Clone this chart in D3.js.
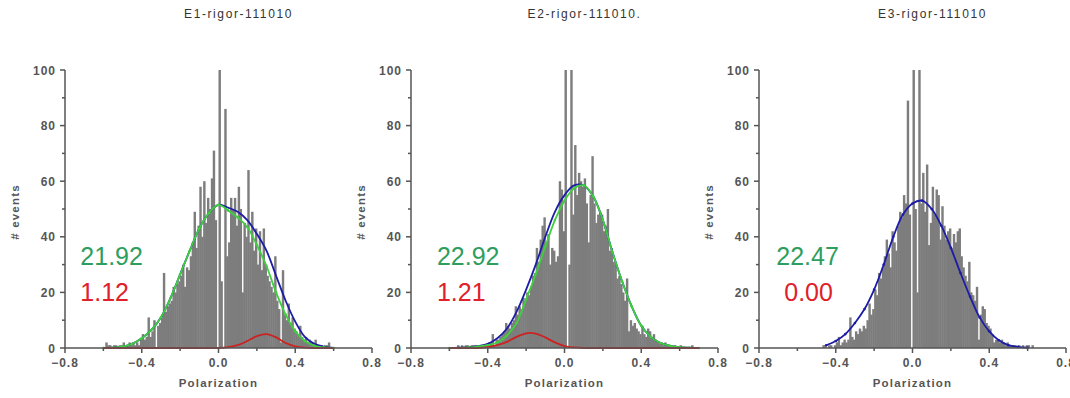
<!DOCTYPE html>
<html lang="en">
<head>
<meta charset="UTF-8">
<title>Polarization histograms</title>
<script src="https://d3js.org/d3.v7.min.js"></script>
<style>
  body { margin: 0; background: #fff; }
  text { font-family: Arial, "Liberation Sans", sans-serif; }
  .tick-label { font-size: 12px; font-weight: bold; fill: #555; letter-spacing: 1px; }
  .title { font-size: 12px; fill: #333; letter-spacing: 1.6px; }
  .axis-title { font-size: 11.5px; font-weight: bold; fill: #555; letter-spacing: 1.2px; }
  .axis-line { stroke: #555; stroke-width: 1.5px; fill: none; }
</style>
</head>
<body>
<svg id="chart" width="1070" height="398"></svg>
<script>
// ---- data ----
const panelTitles = ["E1-rigor-111010", "E2-rigor-111010.", "E3-rigor-111010"];
const binStart = -0.6;
const binWidth = 0.01;

// counts per 0.01 bin starting at -0.60
const e1Counts = [
  0,2,1,1,0,1,1,0,1,1,
  2,0,1,2,1,2,1,2,1,3,
  5,3,4,11,4,6,10,0,8,9,
  12,27,13,15,16,17,22,20,23,24,
  26,30,22,29,28,33,38,49,36,44,
  58,40,60,45,54,50,61,71,46,0,
  100,24,0,86,33,38,54,50,54,44,
  58,50,20,45,40,64,38,49,35,43,
  30,42,28,43,30,26,24,22,20,33,
  17,14,2,28,12,10,16,9,11,7,
  6,5,8,4,3,4,2,3,2,1,
  3,1,1,1,0,1,1,2,0,0
];
const e2Counts = [
  0,0,0,0,1,0,1,0,1,1,
  0,1,1,1,1,0,1,1,1,1,
  2,2,5,1,3,3,4,5,6,9,
  8,7,9,10,15,12,15,14,18,17,
  20,19,22,26,27,36,31,39,44,47,
  38,41,30,36,35,31,33,60,57,42,
  100,0,30,100,48,73,55,63,60,58,
  61,52,38,55,69,52,45,48,49,48,
  42,44,50,35,36,31,30,25,26,23,
  20,17,25,6,10,8,9,7,6,5,
  8,5,4,7,6,4,5,3,2,2,
  2,1,2,1,1,1,0,1,0,0,
  1,0,0,0,0,0,1,0,0,0
];
const e3Counts = [
  0,0,0,0,0,0,0,0,0,0,
  0,0,0,1,1,0,1,1,0,1,
  2,4,1,2,3,2,3,11,4,3,
  6,5,7,6,8,7,10,16,12,14,
  21,19,27,25,29,33,39,34,29,42,
  38,35,44,49,47,55,52,89,48,0,
  100,50,20,100,52,63,49,66,37,45,
  58,48,57,55,39,51,44,39,42,43,
  36,41,38,42,43,33,29,26,24,31,
  20,19,17,22,3,12,15,14,9,8,
  7,5,2,3,3,2,3,2,1,2,
  1,1,1,1,0,1,0,1,0,1,
  1,0,1,0
];

// fitted curves
const e1FitX  = [-0.6,-0.55,-0.5,-0.45,-0.4,-0.35,-0.3,-0.25,-0.2,-0.15,-0.1,-0.05,0,0.05,0.1,0.15,0.2,0.25,0.3,0.35,0.4,0.45,0.5,0.55,0.6];
const e1Green = [0,0.1,0.5,1.5,3.5,6.5,11,18,26.5,35,43,48.5,51.5,49.5,47,43.5,37,29.5,20,12,6,2.5,0.8,0.2,0];
const e1Blue  = [0,0.1,0.5,1.5,3.5,6.5,11,18,26.5,35,43,48.5,51.5,50.5,49,46,41,35,26,17,9.5,4,1.5,0.5,0];
const e1Red   = [0,0,0,0,0,0,0,0,0,0,0,0,0,0.3,1,2.5,4.3,5,3.8,1.8,0.6,0.1,0,0,0];

const e2FitX  = [-0.6,-0.55,-0.5,-0.45,-0.4,-0.35,-0.3,-0.25,-0.2,-0.15,-0.1,-0.05,0,0.05,0.1,0.15,0.2,0.25,0.3,0.35,0.4,0.45,0.5,0.55,0.6,0.65,0.7];
const e2Green = [0,0,0.2,0.5,1,2,4.5,9,17.5,26.5,36.5,46,53,57.5,58.5,54.5,46,34.5,24,15,8,4,1.8,0.8,0.3,0.1,0];
const e2Blue  = [0,0.1,0.3,0.7,1.5,3.5,7,13,21,30,40,49,55,58.5,58.5,54.5,46,34.5,24,15,8,4,1.8,0.8,0.3,0.1,0];
const e2Red   = [0,0,0,0,0.3,1,2.2,4,5.3,5.2,3.8,2,0.7,0.2,0,0,0,0,0,0,0,0,0,0,0,0,0];

const e3FitX  = [-0.45,-0.4,-0.35,-0.3,-0.25,-0.2,-0.15,-0.1,-0.05,0,0.05,0.1,0.15,0.2,0.25,0.3,0.35,0.4,0.45,0.5,0.55,0.6];
const e3Blue  = [1,2.5,5,9,14,21,30,40,48,52,53,50,44,36,27,18.5,11,6,2.8,1,0.4,0.1];

const totalLabels = ["21.92", "22.92", "22.47"];
const minorLabels = ["1.12", "1.21", "0.00"];

const yTicks = [0, 20, 40, 60, 80, 100];
const yMinor = [10, 30, 50, 70, 90];
const xTicks = [-0.8, -0.4, 0.0, 0.4, 0.8];
const xMinor = [-0.6, -0.2, 0.2, 0.6];

// ---- drawing ----
const svg = d3.select("#chart");
const plotTop = 70, plotBottom = 348, plotW = 307;
const axisLefts = [65, 411, 759];
const labelAnchor = [-0.72, -0.665, -0.71];

const panels = [
  { counts: e1Counts, fitX: e1FitX, lines: [[e1Blue, "#1c1ca6", false], [e1Green, "#3fcf3f", true], [e1Red, "#cc2222", false]] },
  { counts: e2Counts, fitX: e2FitX, lines: [[e2Blue, "#1c1ca6", false], [e2Green, "#3fcf3f", true], [e2Red, "#cc2222", false]] },
  { counts: e3Counts, fitX: e3FitX, lines: [[e3Blue, "#1c1ca6", true]] }
];

const fmt = d3.format(".1f");

panels.forEach((p, k) => {
  const x0 = axisLefts[k];
  const x = d3.scaleLinear().domain([-0.8, 0.8]).range([x0, x0 + plotW]);
  const y = d3.scaleLinear().domain([0, 100]).range([plotBottom, plotTop]);
  const g = svg.append("g");

  // bars
  const bw = x(binWidth) - x(0);
  g.selectAll("rect.bar")
    .data(p.counts)
    .enter().append("rect")
    .attr("class", "bar")
    .attr("x", (d, i) => x(binStart + i * binWidth))
    .attr("y", d => y(d))
    .attr("width", bw + 0.5)
    .attr("height", d => y(0) - y(d))
    .attr("fill", "#7d7d7d");

  // fit lines
  const line = d3.line()
    .x(d => x(d[0]))
    .y(d => y(d[1]))
    .curve(d3.curveCatmullRom);
  p.lines.forEach(([vals, color, markers]) => {
    const pts = p.fitX.map((v, i) => [v, vals[i]]);
    g.append("path")
      .attr("d", line(pts))
      .attr("fill", "none")
      .attr("stroke", color)
      .attr("stroke-width", 1.8);
    if (markers) {
      g.selectAll(null)
        .data(pts)
        .enter().append("circle")
        .attr("cx", d => x(d[0]))
        .attr("cy", d => y(d[1]))
        .attr("r", 1.3)
        .attr("fill", color);
    }
  });

  // axes
  g.append("path").attr("class", "axis-line")
    .attr("d", `M${x0},${plotTop}V${plotBottom}H${x0 + plotW}`);

  yTicks.forEach(t => {
    g.append("line").attr("class", "axis-line")
      .attr("x1", x0 - 5).attr("x2", x0).attr("y1", y(t)).attr("y2", y(t));
    g.append("text").attr("class", "tick-label")
      .attr("x", x0 - 9).attr("y", y(t) + 4.5)
      .attr("text-anchor", "end")
      .text(t);
  });
  yMinor.forEach(t => {
    g.append("line").attr("class", "axis-line")
      .attr("x1", x0 - 3).attr("x2", x0).attr("y1", y(t)).attr("y2", y(t));
  });
  xTicks.forEach(t => {
    g.append("line").attr("class", "axis-line")
      .attr("x1", x(t)).attr("x2", x(t)).attr("y1", plotBottom).attr("y2", plotBottom + 5);
    g.append("text").attr("class", "tick-label")
      .attr("x", x(t)).attr("y", plotBottom + 19)
      .attr("text-anchor", "middle")
      .text(fmt(t));
  });
  xMinor.forEach(t => {
    g.append("line").attr("class", "axis-line")
      .attr("x1", x(t)).attr("x2", x(t)).attr("y1", plotBottom).attr("y2", plotBottom + 3);
  });

  // titles
  g.append("text").attr("class", "title")
    .attr("x", x(0) + 20).attr("y", 18)
    .attr("text-anchor", "middle")
    .text(panelTitles[k]);
  g.append("text").attr("class", "axis-title")
    .attr("transform", `translate(${x0 - 46},${212}) rotate(-90)`)
    .attr("text-anchor", "middle")
    .text("# events");
  g.append("text").attr("class", "axis-title")
    .attr("x", x(0)).attr("y", 387)
    .attr("text-anchor", "middle")
    .text("Polarization");

  // area numbers
  g.append("text")
    .attr("x", x(labelAnchor[k])).attr("y", 265)
    .attr("font-size", 25).attr("fill", "#2e9e5e")
    .text(totalLabels[k]);
  g.append("text")
    .attr("x", x(labelAnchor[k]) + (k === 2 ? 8 : 0)).attr("y", 301)
    .attr("font-size", 25).attr("fill", "#e0202a")
    .text(minorLabels[k]);
});
</script>
</body>
</html>
